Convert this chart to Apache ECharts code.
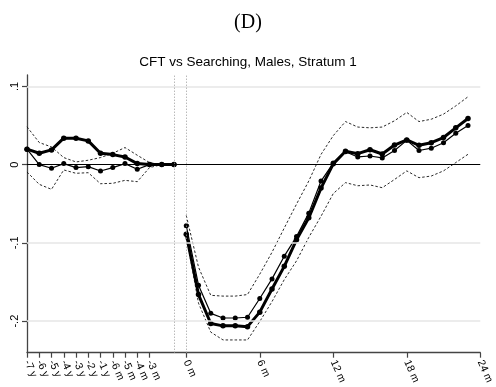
<!DOCTYPE html>
<html>
<head>
<meta charset="utf-8">
<script src="https://cdn.jsdelivr.net/npm/echarts@6/dist/echarts.min.js"></script>
<style>html,body{margin:0;padding:0;background:#fff;}#c{width:496px;height:387px;}</style>
</head>
<body>
<div id="c"></div>
<script>
// period indices (months relative to event; pre-period uses annual then monthly steps)
const preX = [-13,-12,-11,-10,-9,-8,-7,-6,-5,-4,-3,-2,-1];
const postX = [0,1,2,3,4,5,6,7,8,9,10,11,12,13,14,15,16,17,18,19,20,21,22,23];

const preThick = [0.0197,0.0145,0.0188,0.0338,0.0338,0.0303,0.0145,0.0128,0.0098,0.0013,0,0,0];
const preThin  = [0.0197,0,-0.0047,0.0013,-0.0038,-0.0026,-0.0081,-0.0038,0.0013,-0.006,0,0,0];
const preUpper = [0.0483,0.0282,0.0226,0.0090,0.0034,0.0056,0.0090,0.0145,0.0218,0.0120,0.0026,0,0];
const preLower = [-0.0094,-0.0252,-0.0316,-0.0068,-0.0111,-0.0103,-0.0244,-0.0239,-0.0201,-0.0218,-0.0038,0,0];

const postThick = [-0.089,-0.166,-0.203,-0.206,-0.206,-0.207,-0.1885,-0.159,-0.130,-0.096,-0.068,-0.030,0.001,0.017,0.014,0.019,0.0136,0.025,0.0316,0.0247,0.028,0.0346,0.047,0.059];
const postThin  = [-0.078,-0.154,-0.190,-0.196,-0.196,-0.195,-0.171,-0.146,-0.117,-0.092,-0.062,-0.021,0.002,0.0165,0.0098,0.011,0.0085,0.018,0.031,0.018,0.021,0.028,0.040,0.050];
const postUpper = [-0.065,-0.131,-0.167,-0.168,-0.168,-0.166,-0.140,-0.112,-0.081,-0.0505,-0.021,0.013,0.037,0.055,0.048,0.047,0.048,0.056,0.0667,0.055,0.058,0.0645,0.075,0.0867];
const postLower = [-0.091,-0.177,-0.214,-0.224,-0.224,-0.224,-0.2005,-0.175,-0.147,-0.123,-0.093,-0.066,-0.037,-0.023,-0.027,-0.026,-0.0295,-0.019,-0.008,-0.0167,-0.0146,-0.008,0.0026,0.0132];

const xTickValues = [-13,-12,-11,-10,-9,-8,-7,-6,-5,-4,-3,0,6,12,18,24];
const xTickLabels = ['-7 y','-6 y','-5 y','-4 y','-3 y','-2 y','-1 y','-6 m','-5 m','-4 m','-3 m','0 m','6 m','12 m','18 m','24 m'];
const yTickValues = [-0.2,-0.1,0,0.1];
const yTickLabels = ['-.2','-.1','0','.1'];
const gridValues = [-0.2,-0.1,0.1];
const eventLines = [-1,0];

const zip = (xs, ys) => xs.map((x,i)=>[x, ys[i]]);
const font = 'Liberation Sans, Arial, Helvetica, sans-serif';

function dashed(data){
  return {type:'line', data, symbol:'none', lineStyle:{color:'#111', width:0.9, type:[2.5,2]}, z:2, silent:true, animation:false};
}
function thin(data){
  return {type:'line', data, symbol:'circle', symbolSize:5, itemStyle:{color:'#000'}, lineStyle:{color:'#000', width:1.2}, z:3, silent:true, animation:false};
}
function thick(data){
  return {type:'line', data, symbol:'circle', symbolSize:5.5, itemStyle:{color:'#000'}, lineStyle:{color:'#000', width:3}, z:4, silent:true, animation:false};
}

const chart = echarts.init(document.getElementById('c'), null, {renderer:'canvas'});
const refSeries = {
  type:'line', data:[], silent:true, animation:false, z:1,
  markLine:{
    silent:true, symbol:'none', label:{show:false}, animation:false,
    data: [
      ...gridValues.map(v=>({yAxis:v, lineStyle:{color:'#e6e6e6', width:1.5, type:'solid'}})),
      {yAxis:0, lineStyle:{color:'#000', width:1.2, type:'solid'}},
      ...eventLines.map(v=>({xAxis:v, lineStyle:{color:'#999', width:1, type:[1,2]}}))
    ]
  }
};

chart.setOption({
  backgroundColor:'#fff',
  animation:false,
  graphic:[
    {type:'text', left:'center', top:13, style:{text:'(D)', font:'20px "Liberation Serif", "DejaVu Serif", serif', fill:'#000'}},
  ],
  title:{text:'CFT vs Searching, Males, Stratum 1', left:'center', top:55, padding:0,
    textStyle:{fontFamily:font, fontSize:13.5, fontWeight:'normal', color:'#000'}},
  grid:{left:27, right:12.3, top:75, bottom:34.3, containLabel:false},
  xAxis:{
    type:'value', min:-13, max:24,
    axisLine:{show:true, onZero:false, lineStyle:{color:'#444', width:1.3}},
    axisTick:{show:true, customValues:xTickValues, length:5, lineStyle:{color:'#444', width:1.2}},
    axisLabel:{show:true, customValues:xTickValues, rotate:-66, margin:8, hideOverlap:false, showMinLabel:true, showMaxLabel:true,
      fontFamily:font, fontSize:10.5, color:'#000',
      formatter:(v)=>{const i=xTickValues.indexOf(Math.round(v)); return i>=0?xTickLabels[i]:'';}},
    splitLine:{show:false}
  },
  yAxis:{
    type:'value', min:-0.2403, max:0.1145,
    axisLine:{show:true, onZero:false, lineStyle:{color:'#444', width:1.3}},
    axisTick:{show:true, customValues:yTickValues, length:5, lineStyle:{color:'#444', width:1.2}},
    axisLabel:{show:true, customValues:yTickValues, rotate:90, margin:7, hideOverlap:false, fontFamily:font, fontSize:11, color:'#000',
      formatter:(v)=>{let best=0; yTickValues.forEach((t,i)=>{if(Math.abs(t-v)<Math.abs(yTickValues[best]-v)) best=i;}); return yTickLabels[best];}},
    splitLine:{show:false}
  },
  series:[
    refSeries,
    dashed(zip(preX, preUpper)), dashed(zip(preX, preLower)),
    dashed(zip(postX, postUpper)), dashed(zip(postX, postLower)),
    thin(zip(preX, preThin)), thin(zip(postX, postThin)),
    thick(zip(preX, preThick)), thick(zip(postX, postThick))
  ]
});
</script>
</body>
</html>
